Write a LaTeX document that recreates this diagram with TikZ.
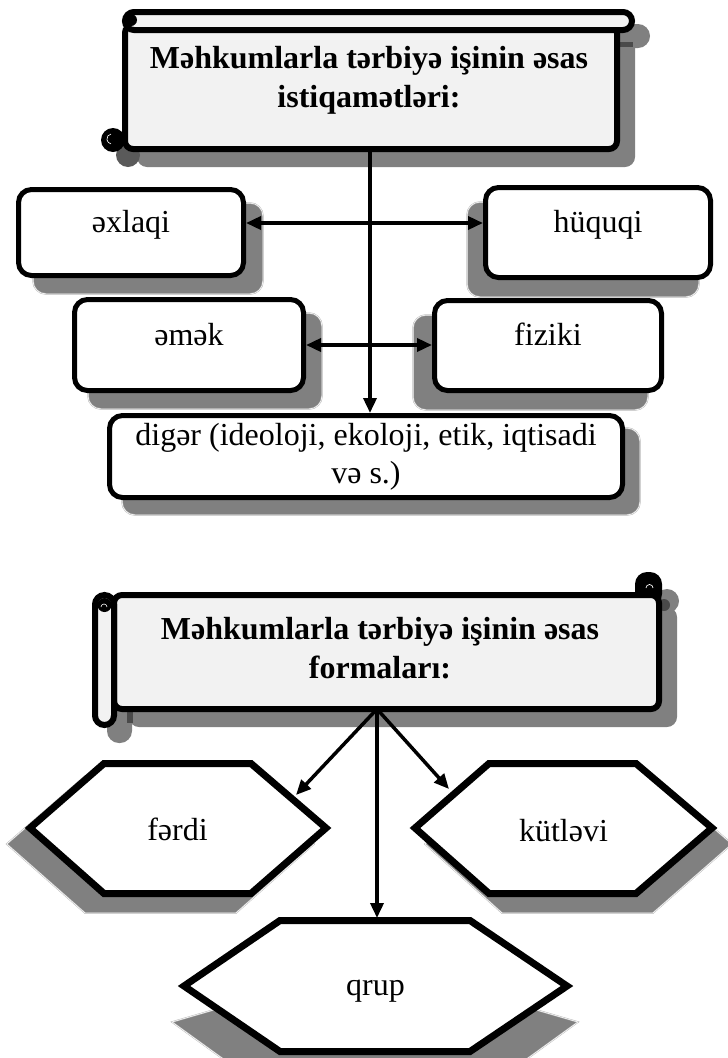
\documentclass[tikz,border=0pt]{standalone}
\usepackage{fontspec}
\setmainfont{Liberation Serif}
\usetikzlibrary{arrows.meta}
\definecolor{shd}{HTML}{808080}
\definecolor{scrollfill}{HTML}{F2F2F2}
\definecolor{dshd}{HTML}{4A4A4A}
\begin{document}
\begin{tikzpicture}[x=1pt,y=-1pt,
  ttl/.style={font=\bfseries\fontsize{32}{39}\selectfont, inner sep=0pt, align=center},
  txt/.style={font=\fontsize{32}{38}\selectfont, inner sep=0pt},
  rbox/.style={draw=black, line width=5pt, rounded corners=13pt, fill=white, inner sep=0pt,
               font=\fontsize{32}{38}\selectfont, align=center},
  rshadow/.style={fill=shd, draw=shd!55, line width=0.5pt, double=white, double distance=0.5pt, rounded corners=13pt},
  scrollst/.style={draw=black, line width=6pt, fill=scrollfill},
  hexst/.style={draw=black, line width=7pt, fill=white, line join=miter},
  hexshadow/.style={fill=shd, draw=shd!55, line width=0.5pt, double=white, double distance=0.5pt},
  conn/.style={line width=3.5pt, -{Triangle[length=15pt,width=13pt]}},
  dconn/.style={line width=3.5pt, {Triangle[length=15pt,width=13pt]}-{Triangle[length=15pt,width=13pt]}},
]
\useasboundingbox (0,0) rectangle (728,1058);

% ---------------- top scroll ----------------
\begin{scope}[shift={(15,15)}]
  \fill[shd, rounded corners=10pt] (122,22) rectangle (620,152);
  \fill[shd, rounded corners=12pt] (122,9) rectangle (635,33);
  \fill[shd!70!black] (113,140) circle (12pt);
\end{scope}
\fill[dshd] (620,42) rectangle (633,47);
\draw[scrollst, rounded corners=8pt] (125,25) rectangle (617,149);
\draw[scrollst, rounded corners=9pt] (125,12) rectangle (632,30);
\fill[black] (131,20) circle (6pt);
\fill[black] (113,140) circle (12pt);
\draw[white, line width=0.6pt] (111,134) arc[start angle=100, end angle=260, radius=5pt];
\node[ttl] (t1) at (369,80) {Məhkumlarla tərbiyə işinin əsas\\istiqamətləri:};
\coordinate (tsc) at (370,149);

% ---------------- rounded boxes ----------------
\path[rshadow] (33,203) rectangle (263,294);
\path[rshadow] (467,202) rectangle (699,297);
\path[rshadow] (88,313) rectangle (322,409);
\path[rshadow] (413,315) rectangle (648,410);
\path[rshadow] (122,428) rectangle (640,515);

\node[rbox, minimum width=225pt, minimum height=86pt, text height=20pt, text depth=20pt] (axlaqi) at (131,232.5) {əxlaqi};
\node[rbox, minimum width=225pt, minimum height=90pt, text height=20pt, text depth=20pt] (huquqi) at (598,232.5) {hüquqi};
\node[rbox, minimum width=229pt, minimum height=91pt, text height=20pt, text depth=20pt] (emek) at (189,345) {əmək};
\node[rbox, minimum width=227pt, minimum height=90pt, text height=20pt, text depth=20pt] (fiziki) at (548,345.5) {fiziki};
\node[rbox, minimum width=513pt, minimum height=82pt] (diger) at (366,456.5) {digər (ideoloji, ekoloji, etik, iqtisadi\\və s.)};

\draw[dconn] ([yshift=9.5pt]axlaqi.east) -- ([yshift=9.5pt]huquqi.west);
\draw[dconn] (emek.east) -- (emek.east -| fiziki.west);
\draw[conn] (tsc) -- (tsc |- diger.north);

% ---------------- bottom scroll ----------------
\begin{scope}[shift={(15,15)}]
  \fill[shd, rounded corners=10pt] (114,592) rectangle (662,712);
  \fill[shd, rounded corners=12pt] (92,592) rectangle (117,728);
  \fill[shd] (652,586) circle (12pt);
  \fill[dshd] (649,590) circle (6pt);
\end{scope}
\fill[dshd] (127,712) rectangle (133,723);
\fill[black, rounded corners=12pt] (635,572) rectangle (662,606);
\draw[scrollst, rounded corners=8pt] (114,595) rectangle (659,709);
\draw[white, line width=0.7pt] (646,588) arc[start angle=180, end angle=0, radius=3.5pt];
\draw[scrollst, rounded corners=9.5pt] (95,595) rectangle (114,725);
\fill[black] (104.5,605) circle (7pt);
\draw[white, line width=0.6pt] (101,607) arc[start angle=180, end angle=0, radius=3pt];
\node[ttl] (t2) at (380,648) {Məhkumlarla tərbiyə işinin əsas\\formaları:};
\coordinate (bsc) at (377,709);

% ---------------- hexagons ----------------
\path[hexshadow] (6.7,844) -- (85,776) -- (236,776) -- (314,844) -- (236,913) -- (85,913) -- cycle;
\path[hexshadow] (425,844) -- (502,776) -- (653,776) -- (732,844) -- (653,913) -- (502,913) -- cycle;
\path[hexshadow] (172,1022) -- (282,990) -- (468,990) -- (578,1022) -- (470,1100) -- (280,1100) -- cycle;

\draw[hexst] (30,828) -- (104,763.5) -- (251,763.5) -- (326,828) -- (251,893.5) -- (104,893.5) -- cycle;
\draw[hexst] (415,828) -- (489,763.5) -- (636,763.5) -- (712,828) -- (636,893.5) -- (489,893.5) -- cycle;
\draw[hexst] (184,986) -- (280,920.5) -- (470,920.5) -- (567,986) -- (470,1051.5) -- (280,1051.5) -- cycle;

\node[txt, anchor=base] (ferdi) at (177.5,840) {fərdi};
\node[txt, anchor=base] (kutlevi) at (563.5,841) {kütləvi};
\node[txt, anchor=base] (qrup) at (375.5,995) {qrup};

\coordinate (fIn) at (296,795);
\coordinate (kIn) at (449,789);
\coordinate (qIn) at (377,918);
\draw[conn] (bsc) -- (fIn);
\draw[conn] (bsc) -- (kIn);
\draw[conn] (bsc) -- (qIn);
\end{tikzpicture}
\end{document}
